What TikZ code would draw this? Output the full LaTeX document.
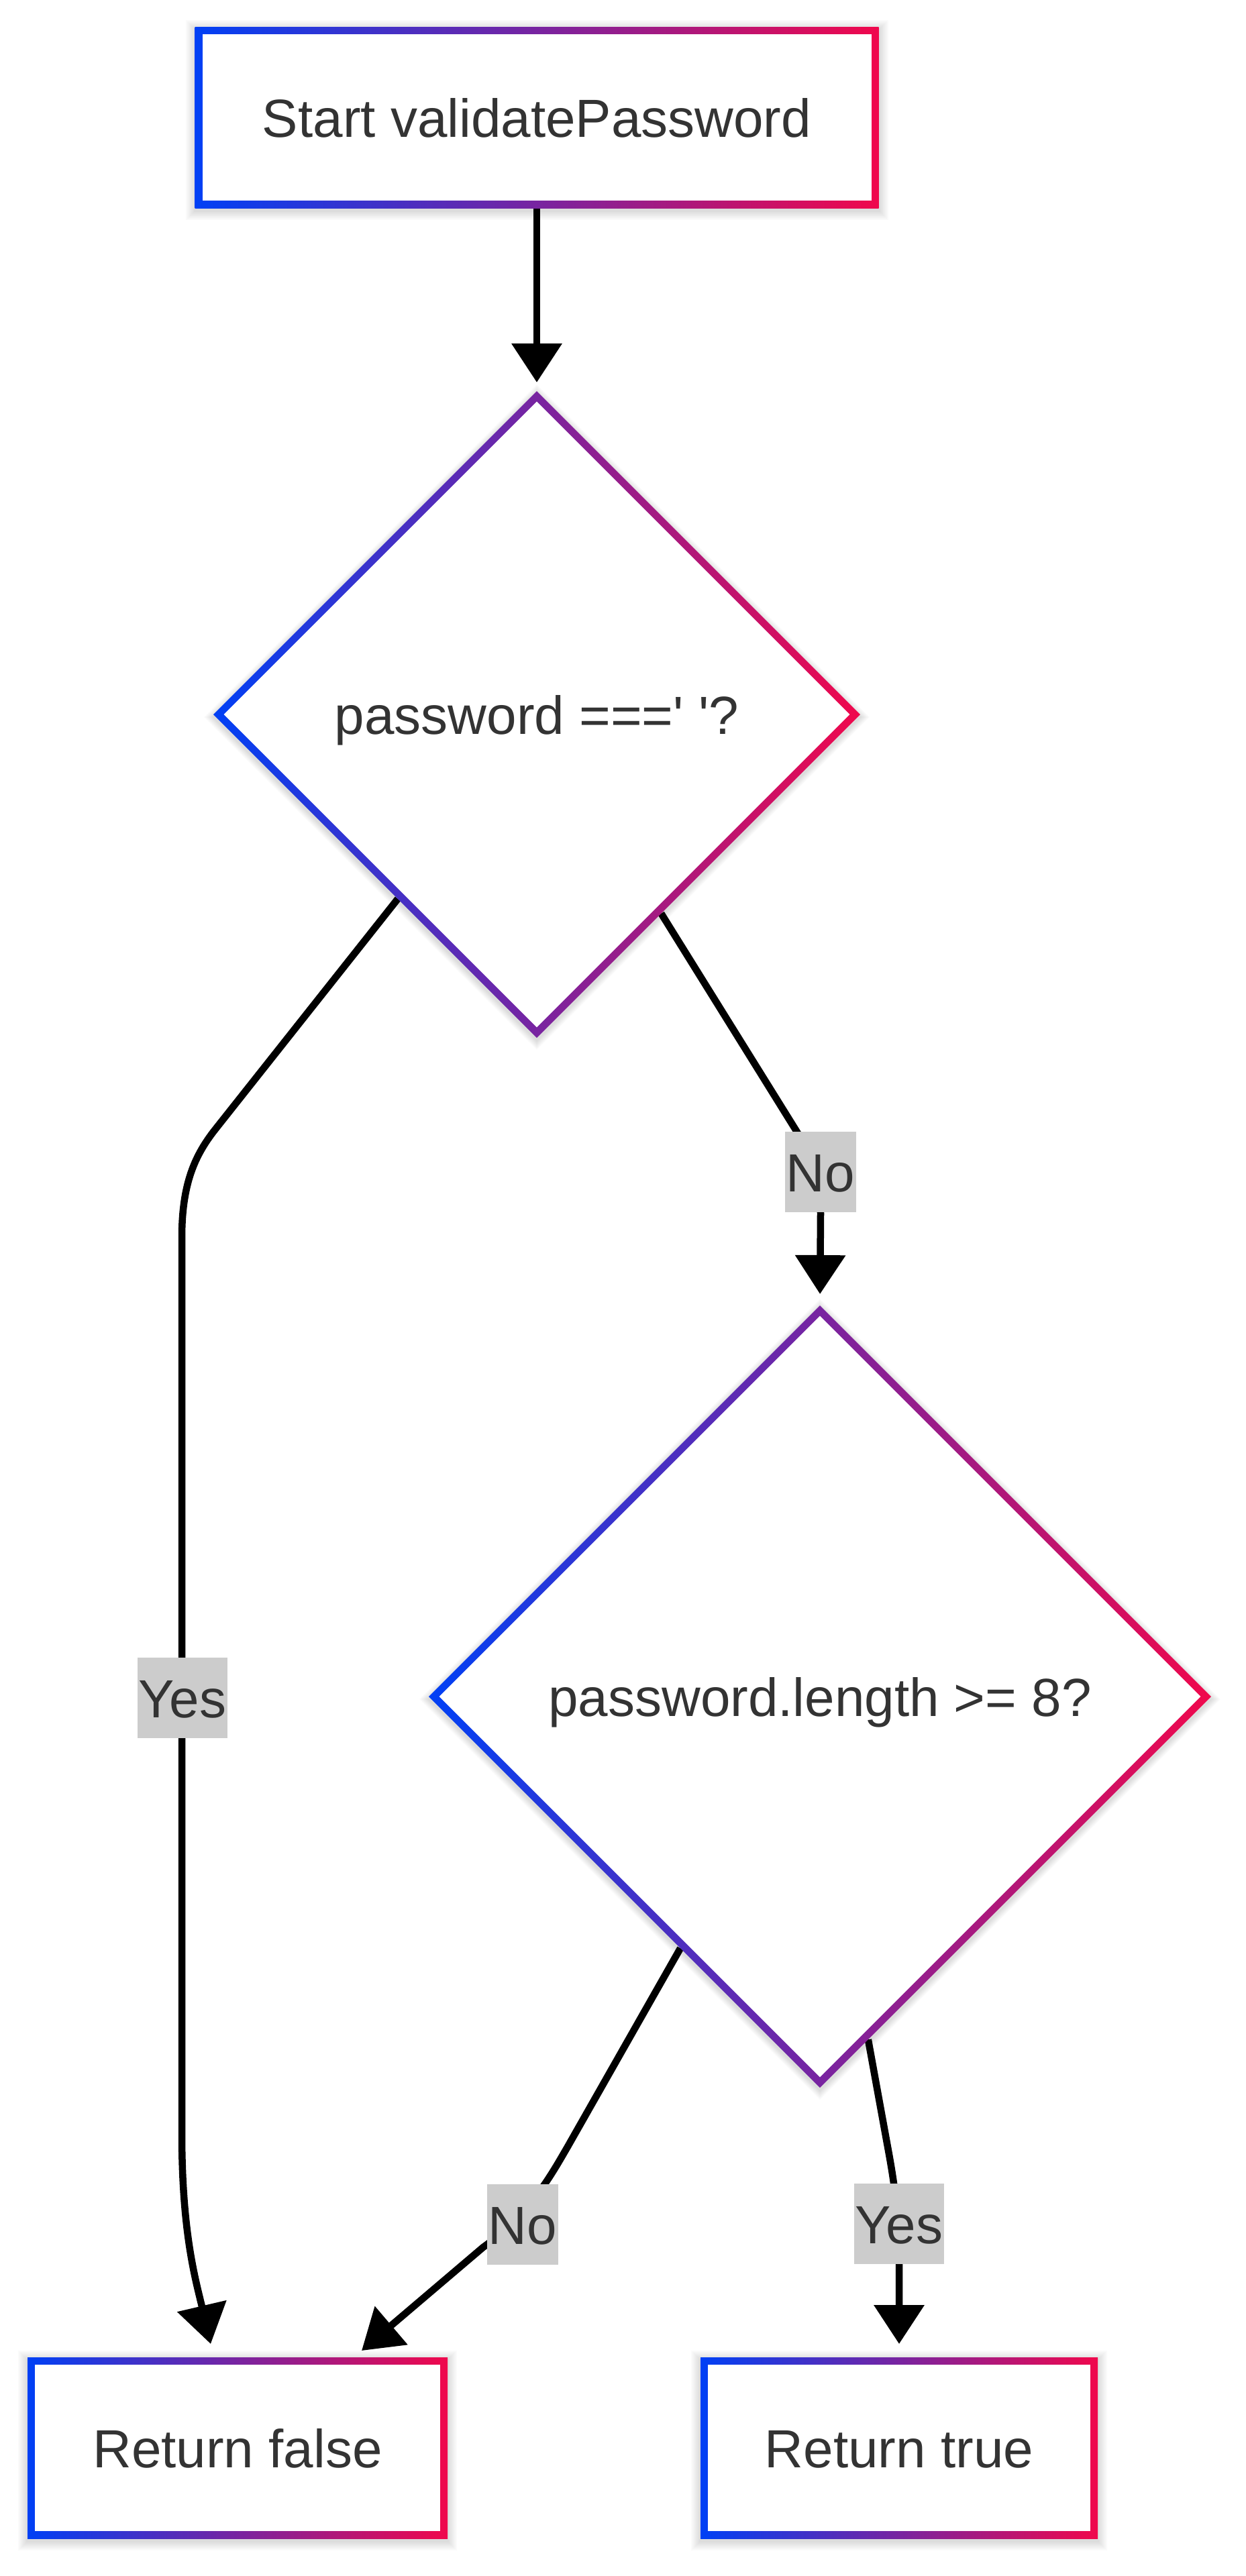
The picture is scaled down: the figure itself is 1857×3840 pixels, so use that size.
\documentclass[tikz,border=0pt]{standalone}
\usepackage{fontspec}
\setmainfont{Liberation Sans}[Ligatures=TeXOff]
\usetikzlibrary{shapes.geometric,arrows.meta}
\definecolor{cblue}{RGB}{0,64,245}
\definecolor{cred}{RGB}{240,8,76}
\definecolor{txt}{RGB}{51,51,51}
\definecolor{lblbg}{RGB}{204,204,204}
\pgfdeclarelayer{bg}
\pgfdeclarelayer{edges}
\pgfsetlayers{bg,edges,main}
\begin{document}
\begin{tikzpicture}[x=0.5pt,y=-0.5pt,
  outerbox/.style={rectangle, left color=cblue, right color=cred, draw=none, inner sep=0pt, outer sep=0pt},
  innerbox/.style={rectangle, fill=white, draw=none, inner sep=0pt, outer sep=0pt},
  outerdia/.style={diamond, aspect=1, left color=cblue, right color=cred, draw=none, inner sep=0pt, outer sep=0pt},
  innerdia/.style={diamond, aspect=1, fill=white, draw=none, inner sep=0pt, outer sep=0pt},
  txtnode/.style={inner sep=0pt, text=txt, font=\fontsize{40}{48}\selectfont, text height=29pt, text depth=0pt},
  lbl/.style={fill=lblbg, inner xsep=1pt, inner ysep=0pt, minimum height=60pt, text=txt, font=\fontsize{40}{48}\selectfont, text height=29pt, text depth=0pt},
  conn/.style={draw=black, line width=5.25pt, line join=round, -{Triangle[width=36.5pt,length=29pt]}},
  shadowfill/.style={fill=black, opacity=0.02, draw=none}
]
\useasboundingbox (0,0) rectangle (1857,3840);

% nodes
\node[outerbox, minimum width=509.5pt, minimum height=135pt] (start) at (800,175) {};
\node[innerbox, minimum width=498.5pt, minimum height=124pt] (startin) at (start.center) {};
\node[txtnode] (startt) at (start.center) {Start validatePassword};

\node[outerdia, minimum width=482pt, minimum height=482pt] (d1) at (800,1065) {};
\node[innerdia, minimum width=466.4pt, minimum height=466.4pt] (d1in) at (d1.center) {};
\node[txtnode] (d1t) at (d1.center) {password ===' '?};

\node[outerdia, minimum width=583pt, minimum height=583pt] (d2) at (1222,2529) {};
\node[innerdia, minimum width=567.4pt, minimum height=567.4pt] (d2in) at (d2.center) {};
\node[txtnode] (d2t) at (d2.center) {password.length >= 8?};

\node[outerbox, minimum width=313pt, minimum height=135pt] (rfalse) at (354,3649) {};
\node[innerbox, minimum width=302pt, minimum height=124pt] (rfalsein) at (rfalse.center) {};
\node[txtnode] (rfalset) at (rfalse.center) {Return false};

\node[outerbox, minimum width=296pt, minimum height=135pt] (rtrue) at (1340,3649) {};
\node[innerbox, minimum width=285pt, minimum height=124pt] (rtruein) at (rtrue.center) {};
\node[txtnode] (rtruet) at (rtrue.center) {Return true};

% background and soft shadows
\begin{pgfonlayer}{bg}
\fill[white] (0,0) rectangle (1857,3840);
\foreach \i in {1,...,7} {
  \foreach \n in {start,rfalse,rtrue} {
    \fill[shadowfill] ([xshift={-\i*1pt}, yshift={(\i-2)*1pt}]\n.north west) rectangle ([xshift={\i*1pt}, yshift={(-\i-2)*1pt}]\n.south east);
  }
  \node[diamond, aspect=1, inner sep=0pt, shadowfill, minimum width={482pt+2*\i pt}, minimum height={482pt+2*\i pt}] (s1\i) at ([yshift=-2pt]d1.center) {};
  \node[diamond, aspect=1, inner sep=0pt, shadowfill, minimum width={583pt+2*\i pt}, minimum height={583pt+2*\i pt}] (s2\i) at ([yshift=-2pt]d2.center) {};
}
\end{pgfonlayer}

% connectors
\begin{pgfonlayer}{edges}
\draw[conn, shorten >=6.5pt] (start.south) -- (d1.north);
\draw[conn, shorten >=8.5pt] (d1.302) -- (1187,1686) .. controls (1213,1728) and (1223,1760) .. (1223,1810) -- (d2.north);
\draw[conn] (d1.233) -- (322,1682) .. controls (290,1722) and (271,1765) .. (271,1845) -- (271,3180) .. controls (271,3330) and (292,3400) .. ([xshift=-20pt,yshift=10pt]rfalse.north);
\draw[conn] (d2.241) -- (846,3200) .. controls (821,3243) and (790,3300) .. (720,3350) -- ([xshift=-64pt,yshift=5pt]rfalse.north east);
\draw[conn, shorten >=10pt] (d2.278) -- (1322,3195) .. controls (1333,3254) and (1340,3300) .. (1340,3380) -- (rtrue.north);
\end{pgfonlayer}

% edge labels
\node[lbl] (l1) at (272,2531) {Yes};
\node[lbl] (l2) at (1223,1747) {No};
\node[lbl] (l3) at (779,3316) {No};
\node[lbl] (l4) at (1340,3315) {Yes};
\end{tikzpicture}
\end{document}
